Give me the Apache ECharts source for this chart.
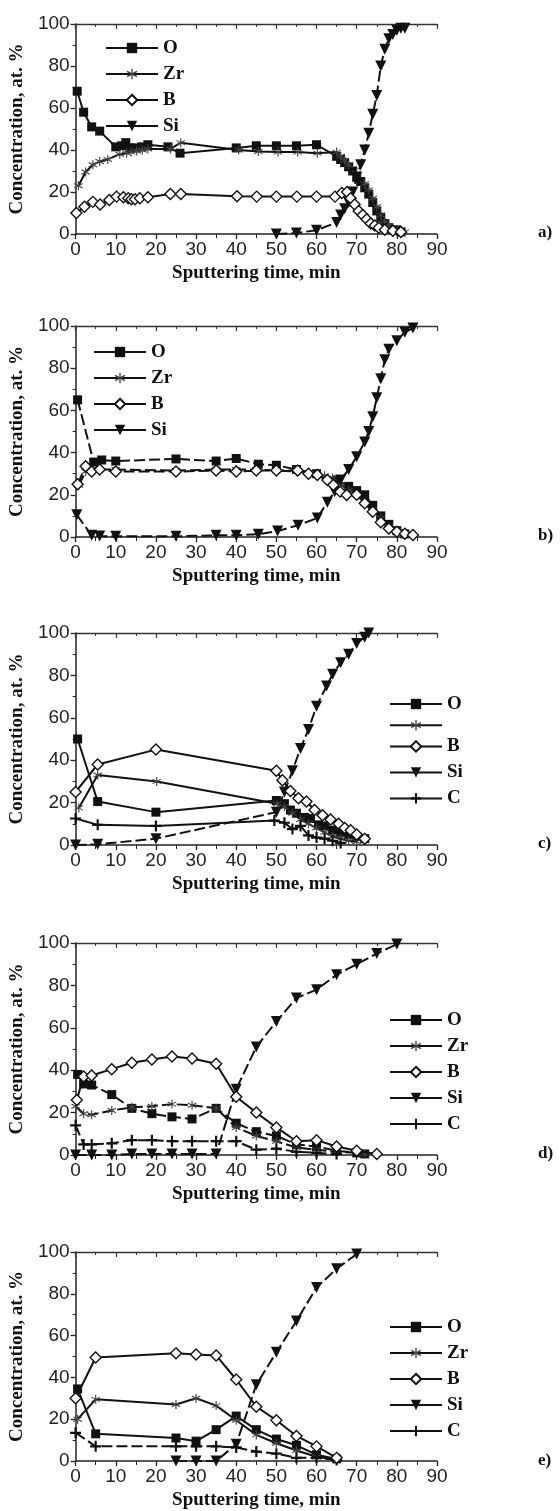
<!DOCTYPE html>
<html><head><meta charset="utf-8">
<script src="https://cdn.jsdelivr.net/npm/echarts@6/dist/echarts.min.js"></script>
<style>html,body{margin:0;padding:0;background:#fff}#c{width:560px;height:1511px}</style>
</head><body><div id="c"></div>
<script>
// ---- tick labels / axis ----
const xTickValues = [0,10,20,30,40,50,60,70,80,90];
const yTickValues = [0,20,40,60,80,100];
const panelLabels = ['a)','b)','c)','d)','e)'];
const elementNames = ['O','Zr','B','Si','C'];

// ---- panel a ----
const a_O = [[0.4,68],[2,58],[4,51],[6,49],[10,41.5],[11.5,42],[12.5,43.5],[13.5,41],[15,41],[16.5,41.5],[18,42.5],[23,41.5],[26,38.5],[40,41],[45,42],[50,42],[55,42],[60,42.5],[65,37],[66,35.5],[67,34],[68,32],[69,30],[70,27],[71,25],[72,22],[73,19],[74,15],[75,11],[76,8],[77,5],[78,3],[80,2],[81,1]];
const a_Zr = [[0.7,23],[2.5,29.5],[4.3,33],[6,34.5],[8,35.5],[11,38],[12.7,38.5],[13.8,39],[15.2,39.5],[16.6,40],[18,40.5],[23.6,40.5],[26.2,43.5],[40.6,40],[45.5,39.3],[50.4,39],[55.3,39],[60.2,38.5],[65,39],[66,37],[67,35],[68,33],[70,29],[72,24],[73,21],[74,17],[75,13],[76,9],[77,6],[78,4],[80,2],[82,1]];
const a_B = [[0.2,10],[2.2,13],[4.3,15.3],[6.1,14],[8.4,16.2],[10.2,17.8],[11.9,17.5],[13.1,17],[13.9,16.5],[14.8,16.5],[16,17],[18,17.5],[23.6,19],[26.2,19],[40.2,18],[45.1,17.8],[50,17.8],[55.1,17.8],[60,17.8],[64.6,17.8],[66.3,19.5],[67.6,20],[68.5,17],[69.5,14],[70.5,11],[71.5,9],[72.5,7],[73.5,5],[74.5,4],[75.5,3],[77,2],[79,1.5],[81,1]];
const a_Si = [[50,0],[55,0.5],[60,1.8],[65,5.5],[66,9],[67,12],[68,15],[69,20],[70,27],[71,33],[72,40],[73,48],[74,57],[75,66],[76,80],[77,88],[78,93],[79,95],[80,97],[81,98],[82,98]];

// ---- panel b ----
const b_O = [[0.5,65],[4.5,35.5],[6.5,36.5],[10,36],[25,37],[35,36],[40,37.2],[45.5,34.5],[50,34],[55,32],[60,30],[65,27],[68,24],[70,22],[72,20],[74,15],[76,10],[78,6],[80,3],[82,1.5]];
const b_Zr = [[0.8,24.5],[2.5,31],[4,32],[6,32],[10,32],[25,31.5],[35,32],[40,32],[45,32],[50,31.5],[55,31],[58,30.5],[60,30],[62,29],[64,28],[66,25],[68,22],[70,20],[72,16],[74,13],[76,9],[78,5],[80,3],[82,2]];
const b_B = [[0.5,25],[2.5,33.5],[4,31],[6,32],[10,31],[25,31],[35,31.5],[40,31],[45,31.5],[50,31.5],[55.3,31.5],[58,30],[60.2,29.4],[62.7,27],[64.2,24.6],[65.9,21.5],[67.5,19.9],[70,20],[72,16],[74,12],[76,7],[78,4],[80,2.5],[82,1.5],[84,1]];
const b_Si = [[0.3,10.5],[4,0.8],[6,0.5],[10,0.3],[25,0.3],[35,0.8],[40,0.8],[45.5,1.3],[50.3,2.8],[55.4,5.6],[60.2,9],[62.7,16.5],[64.5,21.5],[66,27],[68,32],[70,38],[72,45],[73,50],[74,57],[75,66],[76,75],[77,84],[78,89],[80,93],[82,97],[84,99]];

// ---- panel c ----
const c_O = [[0.5,50],[5.5,20.5],[20,15.5],[50,21],[52,19.5],[53.5,16.5],[55,15],[57,13],[58.5,12.5],[60.5,9.5],[62,9],[64,7],[66,6],[68,5],[70,4],[72,3]];
const c_Zr = [[0.8,17.5],[5.5,33],[20.2,30],[50.2,19.5],[52,18],[54,15],[56,12],[58,10],[60,8],[62,6],[64,4],[66,3],[68,2],[70,1.5]];
const c_B = [[0,25],[5.5,38],[20,45],[50,35],[51.5,30.5],[53.5,25.5],[55.5,22],[57.5,20.5],[59.5,16.5],[61.5,14],[63.5,12],[65.5,10],[67,8],[68.5,7],[70,5],[72,3]];
const c_Si = [[0,0],[5.5,0.3],[20,3],[50,15.5],[52,25],[54,35],[56,45.5],[58,54.5],[60,65.5],[62.5,75],[64,80.5],[66,86],[68,90],[70,95],[72,98],[73,100]];
const c_C = [[0,12.5],[5.5,9.5],[20,9],[49.5,11.5],[52,10.5],[54,7.5],[56,9],[58,4.5],[60,3.5],[62,3],[64,2],[66,1]];

// ---- panel d ----
const d_O = [[0.5,38],[2,33.5],[4,33],[9,28.5],[14,22],[19,19.5],[24,18],[29,17],[35,22],[40,15],[45,11],[50,9],[55,5],[60,4],[65,2],[70,1],[72,0.5]];
const d_Zr = [[0,23],[2,19.5],[4,19],[9,21],[14,22.5],[19,23],[24,24],[29,23.5],[35,22],[40,13],[45,9],[50,6.5],[55,3.5],[60,2.5],[65,1.5],[70,1],[72,0.5]];
const d_B = [[0.3,26],[2,37],[4,37.5],[9,40.5],[14,43.5],[19,45],[24,46.5],[29,45.5],[35,43],[40,27.5],[45,20],[50,13],[55,6.5],[60,7],[65,4],[70,2],[75,0.5]];
const d_Si = [[0,0],[4,0],[9,0],[14,0.5],[19,0.5],[24,0.5],[29,0.5],[35,0.5],[40,31],[45,51],[50,63],[55,74],[60,78],[65,85],[70,90],[75,95],[80,99.5]];
const d_C = [[0,14],[2,5],[4,5],[9,5.5],[14,7],[19,7],[24,6.5],[29,6.5],[35,6.5],[40,6.5],[45,2.5],[50,3],[55,1.5],[60,1],[65,0.5]];

// ---- panel e ----
const e_O = [[0.5,34.5],[5,13],[25,11],[30,9.5],[35,15],[40,21.5],[45,15],[50,10.5],[55,7.5],[60,3],[65,1]];
const e_Zr = [[0.5,20],[5,29.5],[25,27],[30,30],[35,26.5],[40,19.5],[45,12.5],[50,8.5],[55,5],[60,2],[65,0.5]];
const e_B = [[0,30],[5,49.5],[25,51.5],[30,51],[35,50.5],[40,39],[45,26],[50,19.5],[55,12],[60,7],[65,1.5]];
const e_Si = [[25,0],[30,0],[35,0],[40,8],[45,36.5],[50,52],[55,67],[60,83],[65,92],[70,99]];
const e_C = [[0,13.5],[5,7],[25,7],[30,7],[35,7],[40,6.5],[45,4.5],[50,3.5],[55,1.5],[60,1.5],[65,0.5]];

// ---- layout / style ----
const SYM = {
  O: 'rect',
  Zr: 'path://M4.4,0L4.4,10L5.6,10L5.6,0Z M0.37,3.02L9.03,8.02L9.63,6.98L0.97,1.98Z M0.97,8.02L9.63,3.02L9.03,1.98L0.37,6.98Z',
  B: 'diamond',
  Si: 'path://M0,0L10,0L5,9Z',
  C: 'path://M4,0L6,0L6,4L10,4L10,6L6,6L6,10L4,10L4,6L0,6L0,4L4,4Z'
};
const SIZE = {O:9, Zr:9, B:11, Si:11, C:11};
const panels = [
  {top:24, h:210, data:{O:a_O, Zr:a_Zr, B:a_B, Si:a_Si}, dash:{Si:true}, leg:{left:100, top:33}},
  {top:326, h:211, data:{O:b_O, Zr:b_Zr, B:b_B, Si:b_Si}, dash:{O:true,Zr:true,B:true,Si:true}, leg:{left:88, top:337}},
  {top:633, h:212, data:{O:c_O, Zr:c_Zr, B:c_B, Si:c_Si, C:c_C}, dash:{Si:true}, leg:{left:384, top:689}, hideZr:true},
  {top:943, h:212, data:{O:d_O, Zr:d_Zr, B:d_B, Si:d_Si, C:d_C}, dash:{O:true,Zr:true,Si:true,C:true}, leg:{left:384, top:1005}},
  {top:1252, h:210, data:{O:e_O, Zr:e_Zr, B:e_B, Si:e_Si, C:e_C}, dash:{Si:true,C:true}, leg:{left:384, top:1312}}
];
const LEFT = 70, WIDTH = 367;
const numFont = 'Liberation Sans';
const serif = 'Liberation Serif';

const grid=[], xAxis=[], yAxis=[], series=[], legend=[], graphic=[];
panels.forEach((p,i)=>{
  grid.push({left:LEFT, top:p.top, width:WIDTH, height:p.h});
  xAxis.push({type:'value', gridIndex:i, min:xTickValues[0], max:xTickValues[xTickValues.length-1], interval:10,
    name:'Sputtering time, min', nameLocation:'middle', nameGap:30,
    nameTextStyle:{fontFamily:serif, fontWeight:'bold', fontSize:19, color:'#111'},
    axisLine:{lineStyle:{color:'#222', width:1.5}},
    axisTick:{show:true, length:5, lineStyle:{color:'#222', width:1.3}},
    minorTick:{show:true, splitNumber:2, length:4, lineStyle:{color:'#222', width:1}},
    axisLabel:{fontFamily:numFont, fontSize:19, color:'#222', margin:6},
    splitLine:{show:false}});
  xAxis.push({type:'value', gridIndex:i, position:'top', min:xTickValues[0], max:xTickValues[xTickValues.length-1], interval:10,
    axisLine:{lineStyle:{color:'#333', width:1.3}},
    axisTick:{show:true, inside:true, length:5, lineStyle:{color:'#333', width:1.2}},
    minorTick:{show:true, splitNumber:2, length:3, lineStyle:{color:'#333'}},
    axisLabel:{show:false}, splitLine:{show:false}});
  yAxis.push({type:'value', gridIndex:i, min:yTickValues[0], max:yTickValues[yTickValues.length-1], interval:20,
    name:'Concentration, at. %', nameLocation:'middle', nameGap:41,
    nameTextStyle:{fontFamily:serif, fontWeight:'bold', fontSize:19, color:'#111'},
    axisLine:{show:true, lineStyle:{color:'#222', width:1.5}},
    axisTick:{show:true, length:5, lineStyle:{color:'#222', width:1.3}},
    minorTick:{show:true, splitNumber:2, length:3, lineStyle:{color:'#222'}},
    axisLabel:{fontFamily:numFont, fontSize:19, color:'#222', margin:6},
    splitLine:{show:false}});
  const names = Object.keys(p.data);
  names.forEach(n=>{
    series.push({type:'line', name:n, xAxisIndex:2*i, yAxisIndex:i, data:p.data[n],
      symbol:SYM[n], symbolSize:SIZE[n], showAllSymbol:true,
      lineStyle:{color:'#111', width:2, type: p.dash[n] ? [11,4] : 'solid'},
      itemStyle: n==='B' ? {color:'#fff', borderColor:'#111', borderWidth:1.4}
               : {color: n==='Zr' ? '#444' : '#111'},
      z: n==='B' ? 3 : 2,
      animation:false});
  });
  legend.push({orient:'vertical', left:p.leg.left, top:p.leg.top, data:names,
    itemWidth:52, itemHeight:13, itemGap:6, selectedMode:false,
    lineStyle:{type:'solid'},
    formatter: p.hideZr ? (nm => nm==='Zr' ? '' : nm) : '{name}',
    textStyle:{fontFamily:serif, fontWeight:'bold', fontSize:19, color:'#111', lineHeight:20}});
  graphic.push({type:'text', left:538, top:p.top+p.h-10,
    style:{text:panelLabels[i], font:'bold 17px "Liberation Serif"', fill:'#111'}});
});

const chart = echarts.init(document.getElementById('c'), null, {renderer:'canvas'});
chart.setOption({animation:false, backgroundColor:'#fff', grid, xAxis, yAxis, series, legend, graphic});
</script></body></html>
